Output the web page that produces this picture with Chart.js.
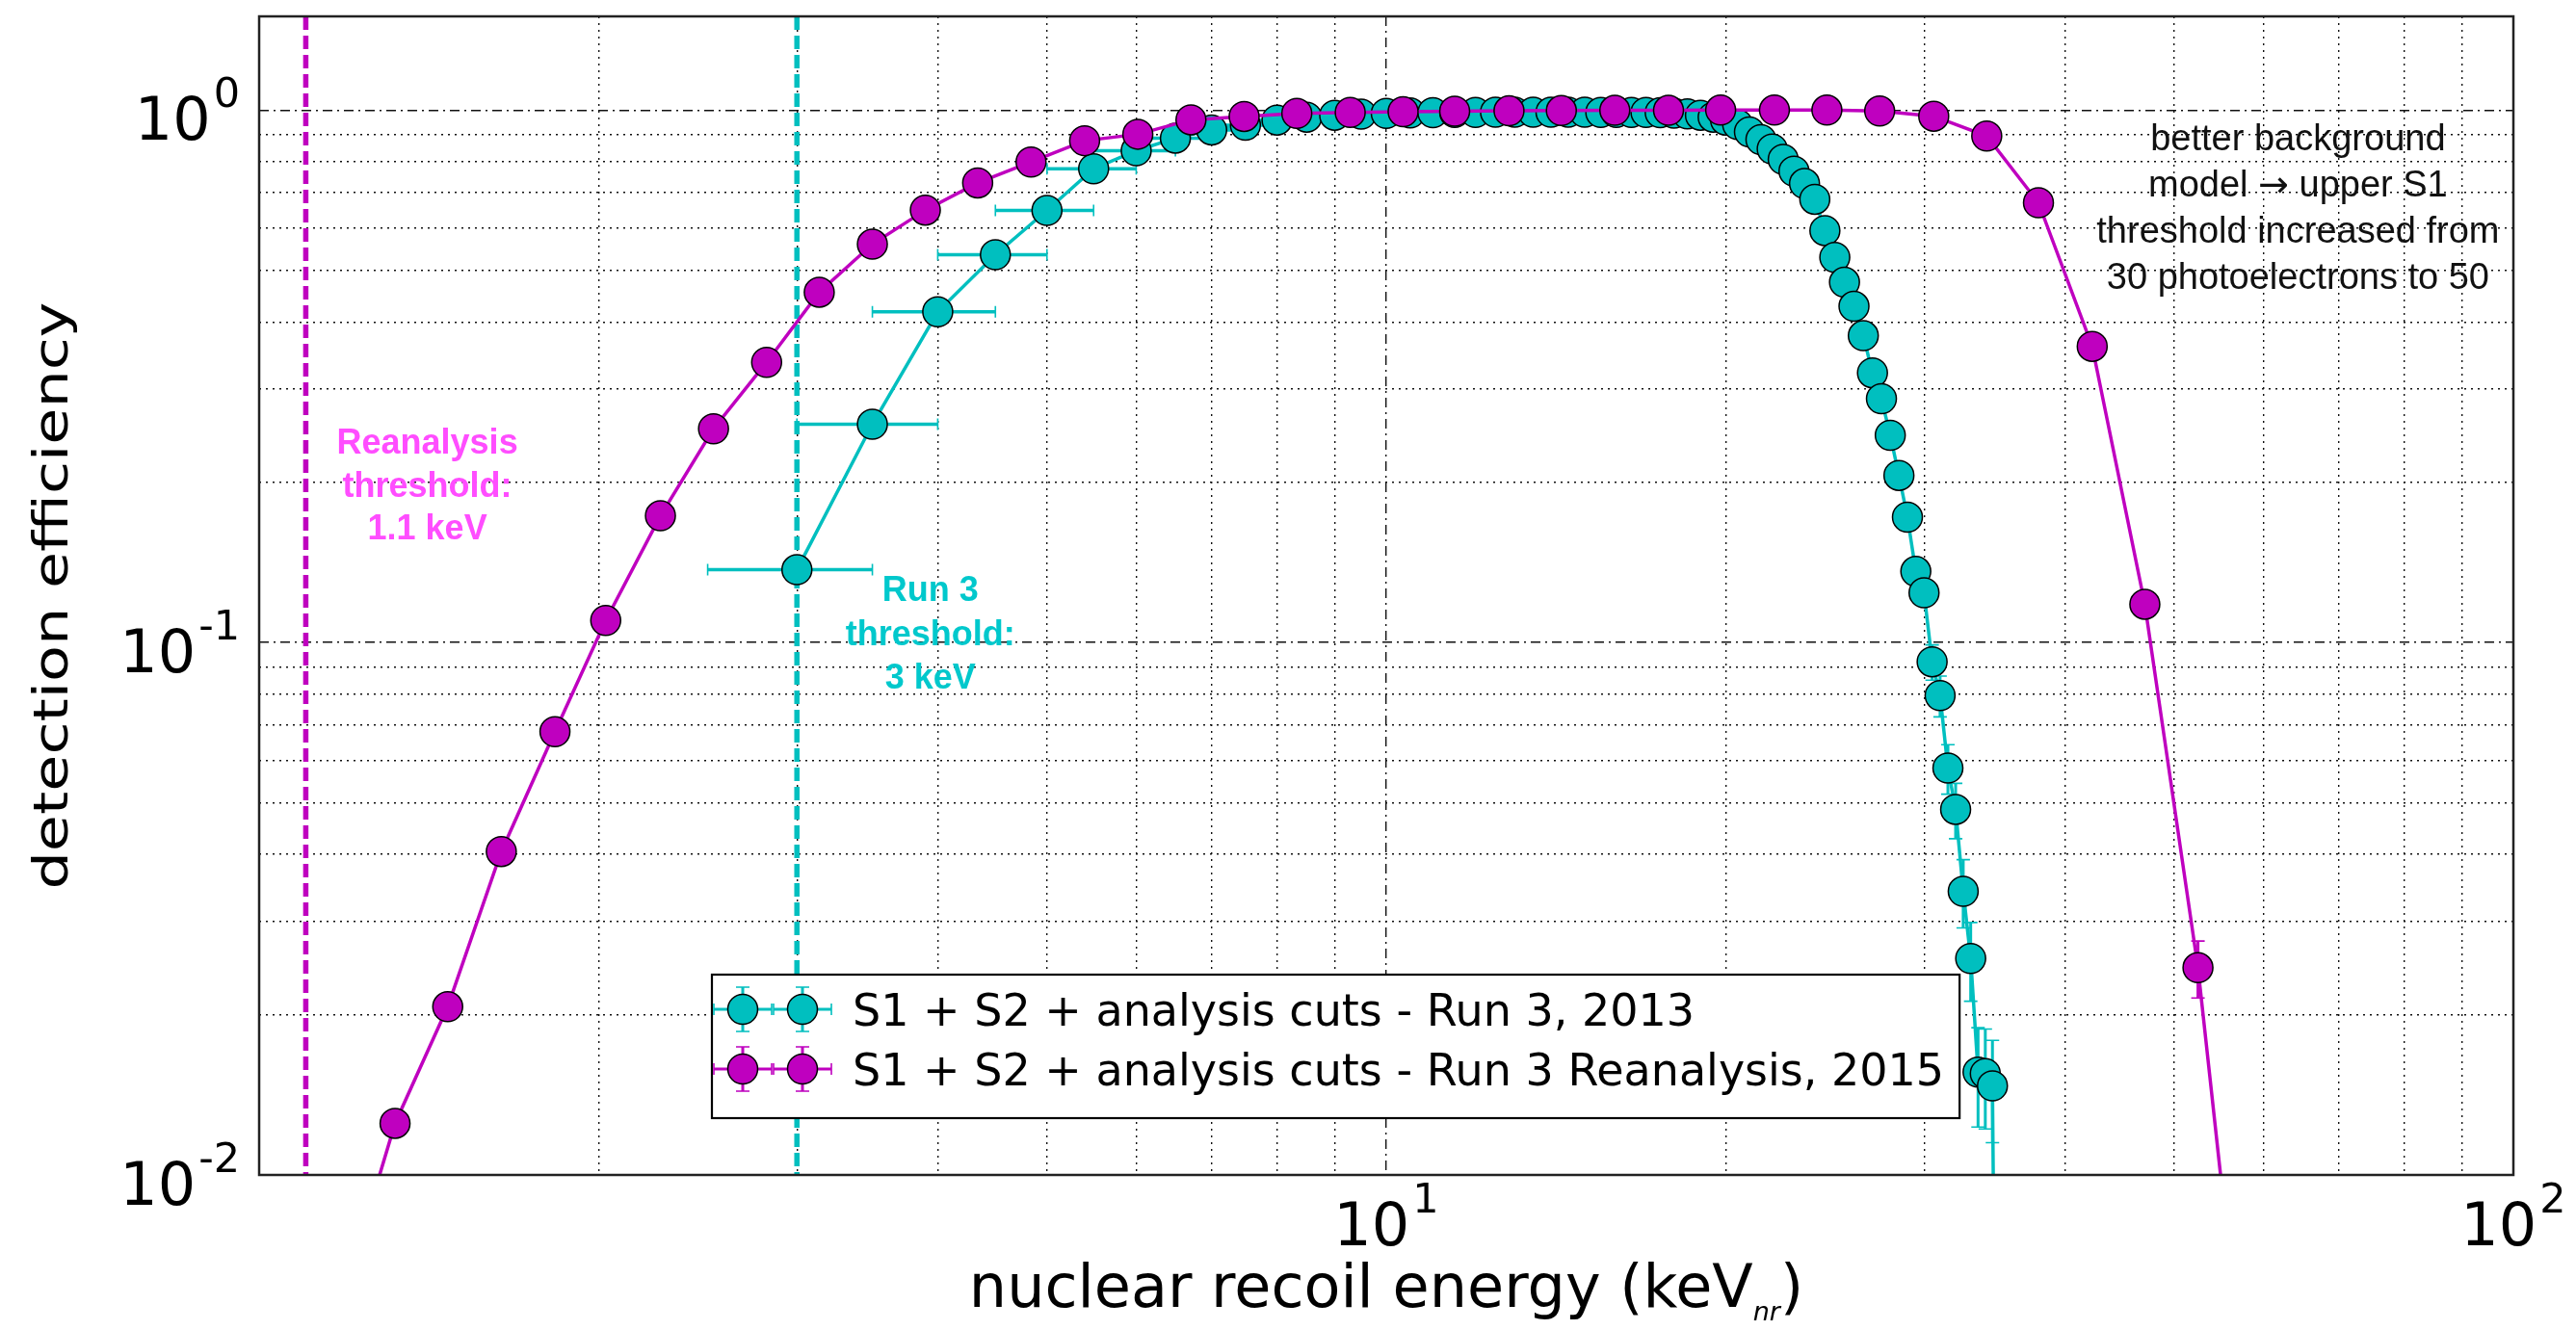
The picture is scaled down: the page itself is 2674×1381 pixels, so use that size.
<!DOCTYPE html>
<html>
<head>
<meta charset="utf-8">
<title>Detection efficiency vs nuclear recoil energy</title>
<script src="https://cdn.jsdelivr.net/npm/chart.js@4.4.1/dist/chart.umd.min.js"></script>
<style>
  html, body { margin:0; padding:0; background:#fff; }
  canvas { display:block; }
</style>
</head>
<body>
<canvas id="effChart" width="2674" height="1381"></canvas>
<script>
// ---- Run 3 (2013): efficiency in 0.5 keV steps ----
const run3Energy = [3.0, 3.5, 4.0, 4.5, 5.0, 5.5, 6.0, 6.5, 7.0, 7.5, 8.0, 8.5, 9.0, 9.5, 10.0, 10.5,
  11.0, 11.5, 12.0, 12.5, 13.0, 13.5, 14.0, 14.5, 15.0, 15.5, 16.0, 16.5, 17.0, 17.5, 18.0, 18.5,
  19.0, 19.5, 20.0, 20.5, 21.0, 21.5, 22.0, 22.5, 23.0, 23.5, 24.0, 24.5, 25.0, 25.5, 26.0, 26.5,
  27.0, 27.5, 28.0, 28.5, 29.0, 29.5, 30.0, 30.5, 31.0, 31.5, 32.0, 32.5, 33.0, 33.5, 34.0, 34.5, 35.0];
const run3Eff = [0.137, 0.257, 0.418, 0.535, 0.648, 0.776, 0.839, 0.886, 0.918, 0.937, 0.958, 0.970, 0.978, 0.983, 0.986, 0.988,
  0.989, 0.990, 0.990, 0.991, 0.991, 0.991, 0.991, 0.991, 0.991, 0.990, 0.990, 0.990, 0.990, 0.989, 0.987, 0.984,
  0.978, 0.970, 0.958, 0.940, 0.910, 0.880, 0.845, 0.808, 0.768, 0.728, 0.680, 0.594, 0.529, 0.475, 0.428, 0.377,
  0.321, 0.287, 0.245, 0.206, 0.172, 0.136, 0.124, 0.092, 0.0795, 0.0581, 0.0486, 0.0341, 0.0255, 0.0156, 0.0155, 0.0147, 0.0005];
const run3ErrE = [0.5, 0.5, 0.5, 0.5, 0.5, 0.5, 0.5, 0.5, 0.5, 0.5, 0.5, 0.5, 0.5, 0.5, 0.5, 0.5,
  0.5, 0.5, 0.5, 0.5, 0.5, 0.5, 0.5, 0.5, 0.5, 0.5, 0.5, 0.5, 0.5, 0.5, 0.5, 0.5,
  0.5, 0.5, 0.5, 0.5, 0.5, 0.5, 0.5, 0.5, 0.5, 0.5, 0.5, 0.5, 0.5, 0.5, 0.5, 0.5,
  0.5, 0.5, 0.5, 0.5, 0.5, 0.5, 0.5, 0.5, 0.5, 0.5, 0.5, 0.5, 0.5, 0.5, 0.5, 0.5, 0];
const run3ErrEff = [0, 0, 0, 0, 0, 0, 0, 0, 0, 0, 0, 0, 0, 0, 0, 0,
  0, 0, 0, 0, 0, 0, 0, 0, 0, 0, 0, 0, 0, 0, 0, 0,
  0, 0, 0, 0, 0, 0, 0, 0, 0, 0, 0, 0, 0, 0, 0, 0,
  0, 0, 0.003, 0.004, 0.005, 0.006, 0.006, 0.007, 0.007, 0.0062, 0.0058, 0.005, 0.0043, 0.0033, 0.0033, 0.0032, 0];

// ---- Run 3 reanalysis (2015) ----
const reanEnergy = [1.19, 1.32, 1.47, 1.64, 1.83, 2.03, 2.27, 2.53, 2.82, 3.14, 3.50, 3.90, 4.34, 4.84, 5.40, 6.02,
  6.71, 7.48, 8.33, 9.29, 10.35, 11.5, 12.85, 14.3, 15.95, 17.8, 19.8, 22.1, 24.6, 27.4, 30.6, 34.1,
  37.9, 42.3, 47.1, 52.5, 58.5];
const reanEff = [0.006, 0.0125, 0.0207, 0.0405, 0.068, 0.110, 0.173, 0.252, 0.336, 0.455, 0.560, 0.649, 0.730, 0.799, 0.876, 0.901,
  0.959, 0.973, 0.986, 0.990, 0.993, 0.995, 0.997, 0.998, 0.999, 0.999, 1.0, 1.0, 1.0, 0.996, 0.974, 0.894,
  0.670, 0.360, 0.118, 0.0245, 0.003];
const reanErrEff = [0, 0, 0, 0, 0, 0, 0, 0, 0, 0, 0, 0, 0, 0, 0, 0,
  0, 0, 0, 0, 0, 0, 0, 0, 0, 0, 0, 0, 0, 0, 0, 0,
  0.006, 0.006, 0.005, 0.003, 0];

// thresholds (keV)
const reanThreshold = 1.1;
const run3Threshold = 3;

// axis ticks
const xTickVals = [10, 100];
const xTickExps = ['1', '2'];
const yTickVals = [0.01, 0.1, 1];
const yTickExps = ['-2', '-1', '0'];

const seriesLabels = ['S1 + S2 + analysis cuts - Run 3, 2013', 'S1 + S2 + analysis cuts - Run 3 Reanalysis, 2015'];
const reanNote = ['Reanalysis', 'threshold:', '1.1 keV'];
const run3Note = ['Run 3', 'threshold:', '3 keV'];
const cutNote = ['better background', 'model \u2192 upper S1', 'threshold increased from', '30 photoelectrons to 50'];

const CYAN = '#00bfbf';
const MAGENTA = '#bf00bf';
const FONT = '"DejaVu Sans", sans-serif';
const HELV = '"Liberation Sans", Arial, sans-serif';

// grid values 1..9 x each decade
function logGrid(lo, hi){
  const out = [];
  for(let d = lo; d <= hi; d *= 10){
    for(let k = 1; k < 10; k++){
      const v = +(k * d).toPrecision(6);
      if(v <= hi) out.push(v);
    }
  }
  return out;
}
const isDecade = v => v > 0 && Math.abs(Math.log10(v) - Math.round(Math.log10(v))) < 1e-6;

function errorBars(ctx, chart, xs, ys, xErr, yErr, color){
  const sx = chart.scales.x, sy = chart.scales.y, a = chart.chartArea;
  ctx.save();
  ctx.beginPath(); ctx.rect(a.left, a.top, a.right - a.left, a.bottom - a.top); ctx.clip();
  ctx.strokeStyle = color;
  for(let i = 0; i < xs.length; i++){
    const px = sx.getPixelForValue(xs[i]), py = sy.getPixelForValue(ys[i]);
    if(xErr && xErr[i]){
      const x1 = sx.getPixelForValue(xs[i] - xErr[i]), x2 = sx.getPixelForValue(xs[i] + xErr[i]);
      ctx.lineWidth = 3.5;
      ctx.beginPath(); ctx.moveTo(x1, py); ctx.lineTo(x2, py); ctx.stroke();
      ctx.lineWidth = 1.6;
      ctx.beginPath(); ctx.moveTo(x1, py - 6); ctx.lineTo(x1, py + 6); ctx.moveTo(x2, py - 6); ctx.lineTo(x2, py + 6); ctx.stroke();
    }
    if(yErr && yErr[i]){
      const y1 = sy.getPixelForValue(ys[i] + yErr[i]), y2 = sy.getPixelForValue(Math.max(ys[i] - yErr[i], 1e-6));
      ctx.lineWidth = 3;
      ctx.beginPath(); ctx.moveTo(px, y1); ctx.lineTo(px, y2); ctx.stroke();
      ctx.lineWidth = 1.6;
      ctx.beginPath(); ctx.moveTo(px - 7, y1); ctx.lineTo(px + 7, y1); ctx.moveTo(px - 7, y2); ctx.lineTo(px + 7, y2); ctx.stroke();
    }
  }
  ctx.restore();
}

// "10" with a raised exponent
function drawPow(ctx, exp, x, y, align){
  ctx.font = '62px ' + FONT;
  const wb = ctx.measureText('10').width;
  ctx.font = '43px ' + FONT;
  const we = ctx.measureText(exp).width;
  const total = wb + 3 + we;
  const left = align === 'right' ? x - total : x - total / 2;
  ctx.fillStyle = '#000';
  ctx.textAlign = 'left';
  ctx.textBaseline = 'alphabetic';
  ctx.font = '62px ' + FONT;
  ctx.fillText('10', left, y);
  ctx.font = '43px ' + FONT;
  ctx.fillText(exp, left + wb + 3, y - 34);
}

// centred text line; the arrow gets a heavier glyph than the Helvetica-like one
function centredLine(ctx, text, x, y, font){
  const parts = text.split('\u2192');
  if(parts.length === 1){ ctx.textAlign = 'center'; ctx.fillText(text, x, y); return; }
  const arrowFont = font.replace(HELV, FONT);
  ctx.font = font; const wa = ctx.measureText(parts[0]).width, wc = ctx.measureText(parts[1]).width;
  ctx.font = arrowFont; const wb = ctx.measureText('\u2192').width;
  let left = x - (wa + wb + wc) / 2;
  ctx.textAlign = 'left';
  ctx.font = font; ctx.fillText(parts[0], left, y); left += wa;
  ctx.font = arrowFont; ctx.fillText('\u2192', left, y); left += wb;
  ctx.font = font; ctx.fillText(parts[1], left, y);
}

function noteLines(ctx, lines, x, y, step, font, color){
  ctx.fillStyle = color;
  ctx.textBaseline = 'alphabetic';
  lines.forEach((t, i) => { ctx.font = font; centredLine(ctx, t, x, y + i * step, font); });
}

function legendMarker(ctx, x, y, color){
  ctx.strokeStyle = color;
  ctx.lineWidth = 3;
  ctx.beginPath(); ctx.moveTo(x - 30, y); ctx.lineTo(x + 30, y); ctx.moveTo(x, y - 23); ctx.lineTo(x, y + 23); ctx.stroke();
  ctx.lineWidth = 1.6;
  ctx.beginPath();
  ctx.moveTo(x - 30, y - 6); ctx.lineTo(x - 30, y + 6); ctx.moveTo(x + 30, y - 6); ctx.lineTo(x + 30, y + 6);
  ctx.moveTo(x - 7, y - 23); ctx.lineTo(x + 7, y - 23); ctx.moveTo(x - 7, y + 23); ctx.lineTo(x + 7, y + 23);
  ctx.stroke();
  ctx.beginPath(); ctx.arc(x, y, 15.5, 0, Math.PI * 2);
  ctx.fillStyle = color; ctx.fill();
  ctx.lineWidth = 1.5; ctx.strokeStyle = '#000'; ctx.stroke();
}

const plotDecor = {
  id: 'plotDecor',
  beforeDatasetsDraw(chart){
    // threshold markers
    const {ctx, chartArea:a, scales:{x}} = chart;
    ctx.save();
    ctx.lineWidth = 5.5;
    ctx.setLineDash([14, 6]);
    [[reanThreshold, MAGENTA], [run3Threshold, CYAN]].forEach(([e, c]) => {
      const px = x.getPixelForValue(e);
      ctx.strokeStyle = c;
      ctx.beginPath(); ctx.moveTo(px, a.top); ctx.lineTo(px, a.bottom); ctx.stroke();
    });
    ctx.restore();
  },
  beforeDatasetDraw(chart, args){
    const ctx = chart.ctx;
    if(args.index === 0) errorBars(ctx, chart, reanEnergy, reanEff, null, reanErrEff, MAGENTA);
    else errorBars(ctx, chart, run3Energy, run3Eff, run3ErrE, run3ErrEff, CYAN);
  },
  afterDraw(chart){
    const {ctx, chartArea:a, scales:{x, y}} = chart;
    ctx.save();

    // axes frame
    ctx.strokeStyle = '#222';
    ctx.lineWidth = 2.5;
    ctx.strokeRect(a.left, a.top, a.right - a.left, a.bottom - a.top);

    // tick labels
    yTickVals.forEach((v, i) => drawPow(ctx, yTickExps[i], a.left - 20, y.getPixelForValue(v) + 31, 'right'));
    xTickVals.forEach((v, i) => drawPow(ctx, xTickExps[i], x.getPixelForValue(v), a.bottom + 73, 'center'));

    // x title with subscript
    const main = 'nuclear recoil energy (keV', sub = 'nr', tail = ')';
    ctx.font = '62px ' + FONT; const w1 = ctx.measureText(main).width, w3 = ctx.measureText(tail).width;
    ctx.font = 'oblique 27px ' + FONT; const w2 = ctx.measureText(sub).width;
    let tx = (a.left + a.right) / 2 - (w1 + w2 + w3) / 2;
    const ty = a.bottom + 137;
    ctx.fillStyle = '#000'; ctx.textAlign = 'left'; ctx.textBaseline = 'alphabetic';
    ctx.font = '62px ' + FONT; ctx.fillText(main, tx, ty); tx += w1;
    ctx.font = 'oblique 27px ' + FONT; ctx.fillText(sub, tx, ty + 14); tx += w2;
    ctx.font = '62px ' + FONT; ctx.fillText(tail, tx, ty);

    // y title
    ctx.save();
    ctx.translate(70, (a.top + a.bottom) / 2);
    ctx.scale(0.8, 1);
    ctx.rotate(-Math.PI / 2);
    ctx.font = '62px ' + FONT; ctx.textAlign = 'center';
    ctx.fillText('detection efficiency', 0, 0);
    ctx.restore();

    // annotations
    noteLines(ctx, reanNote, x.getPixelForValue(1.41), y.getPixelForValue(0.226), 44.5, 'bold 36px ' + HELV, '#ff4dff');
    noteLines(ctx, run3Note, x.getPixelForValue(3.94), y.getPixelForValue(0.1196), 45.5, 'bold 36px ' + HELV, '#00c8cc');
    noteLines(ctx, cutNote, x.getPixelForValue(64.4), y.getPixelForValue(0.84), 48, '38px ' + HELV, '#111');

    // legend
    const lg = {left: 739, top: 1012, bottom: 1161, rows: [1048, 1110], marks: [771, 833], textX: 885};
    ctx.font = '46px ' + FONT;
    const tw = Math.max(...seriesLabels.map(s => ctx.measureText(s).width));
    ctx.fillStyle = '#fff';
    ctx.fillRect(lg.left, lg.top, lg.textX + tw + 16 - lg.left, lg.bottom - lg.top);
    ctx.strokeStyle = '#000'; ctx.lineWidth = 2.2;
    ctx.strokeRect(lg.left, lg.top, lg.textX + tw + 16 - lg.left, lg.bottom - lg.top);
    [CYAN, MAGENTA].forEach((c, i) => {
      lg.marks.forEach(mx => legendMarker(ctx, mx, lg.rows[i], c));
      ctx.fillStyle = '#000'; ctx.font = '46px ' + FONT; ctx.textAlign = 'left';
      ctx.fillText(seriesLabels[i], lg.textX, lg.rows[i] + 17);
    });

    ctx.restore();
  }
};

function series(xs, ys, color){
  return {
    data: xs.map((e, i) => ({x: e, y: ys[i]})),
    borderColor: color, borderWidth: 3.5,
    pointRadius: 15.5, pointHoverRadius: 15.5,
    pointBackgroundColor: color, pointBorderColor: '#000', pointBorderWidth: 1.5,
    tension: 0, fill: false
  };
}

const gridStyle = {
  grid: { color: '#111', lineWidth: 1.4, drawTicks: false },
  border: { display: false, dash: c => (c.tick && isDecade(c.tick.value)) ? [10, 5, 2, 5] : [2, 5] },
  ticks: { display: false }
};

new Chart(document.getElementById('effChart'), {
  type: 'line',
  data: { datasets: [ series(reanEnergy, reanEff, MAGENTA), series(run3Energy, run3Eff, CYAN) ] },
  options: {
    responsive: false, animation: false, events: [],
    layout: { padding: { left: 269, right: 65, top: 13, bottom: 161 } },
    plugins: { legend: { display: false }, tooltip: { enabled: false } },
    scales: {
      x: { type: 'logarithmic', min: 1, max: 100, ...gridStyle,
           afterBuildTicks: s => { s.ticks = logGrid(1, 100).map(v => ({value: v})); },
           afterFit: s => { s.height = 0; } },
      y: { type: 'logarithmic', min: 0.01, max: 1.5, ...gridStyle,
           afterBuildTicks: s => { s.ticks = logGrid(0.01, 1.5).map(v => ({value: v})); },
           afterFit: s => { s.width = 0; } }
    }
  },
  plugins: [plotDecor]
});
</script>
</body>
</html>
